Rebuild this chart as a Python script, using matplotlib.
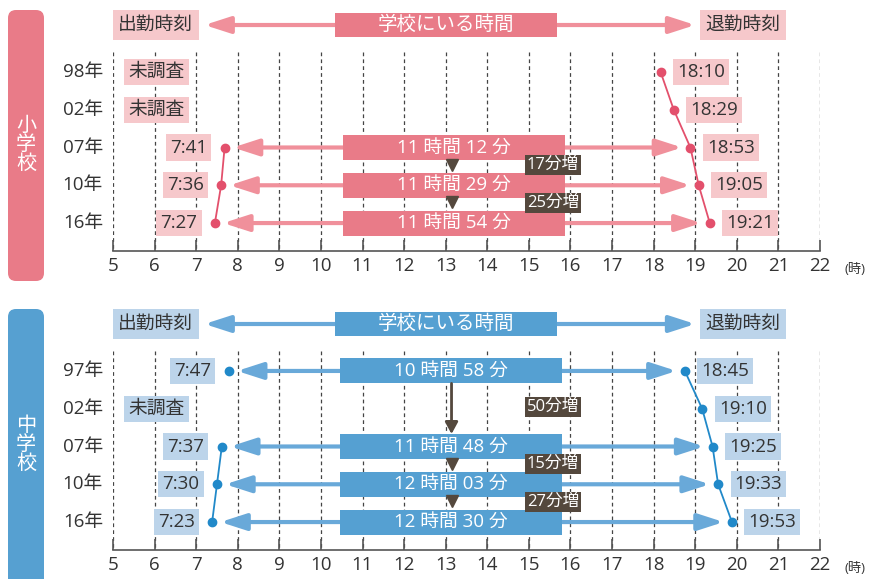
import matplotlib.pyplot as plt
from matplotlib.patches import Rectangle, FancyBboxPatch, FancyArrowPatch

plt.rcParams['font.family'] = ['Open Sans', 'Noto Sans CJK JP', 'DejaVu Sans']

# ----- データ -----
hours = list(range(5, 23))

# 小学校
es_years = ['98年', '02年', '07年', '10年', '16年']
es_arrive = [None, None, '7:41', '7:36', '7:27']
es_leave = ['18:10', '18:29', '18:53', '19:05', '19:21']
es_stay = [None, None, '11 時間 12 分', '11 時間 29 分', '11 時間 54 分']
es_diff_rows = [(2, 3), (3, 4)]
es_diff = ['17分増', '25分増']

# 中学校
jh_years = ['97年', '02年', '07年', '10年', '16年']
jh_arrive = ['7:47', None, '7:37', '7:30', '7:23']
jh_leave = ['18:45', '19:10', '19:25', '19:33', '19:53']
jh_stay = ['10 時間 58 分', None, '11 時間 48 分', '12 時間 03 分', '12 時間 30 分']
jh_diff_rows = [(0, 2), (2, 3), (3, 4)]
jh_diff = ['50分増', '15分増', '27分増']

pink = dict(dot='#e3506c', arrow='#f0909b', box='#e97b88', light='#f6c8cb')
blue = dict(dot='#2189c9', arrow='#69a9d9', box='#55a0d2', light='#bcd4ea')
brown = '#54483d'
text_c = '#333333'
FS = 13.5

HEAD = -1.243      # 見出し行の位置
GRID_TOP = -0.53
YLIM = (4.74, -1.905)


def to_h(s):
    if s is None:
        return float('nan')
    h, m = s.split(':')
    return int(h) + int(m) / 60


def arrow(ax, x0, x1, y, color, style='<|-|>'):
    a = FancyArrowPatch((x0, y), (x1, y),
                        arrowstyle=style + ',head_length=1.55,head_width=0.5',
                        mutation_scale=10, color=color, lw=3,
                        shrinkA=0, shrinkB=0, zorder=2)
    ax.add_patch(a)


def label_box(ax, x, y, s, fc, ha):
    ax.text(x, y, s, fontsize=FS, color=text_c, ha=ha, va='center', zorder=6,
            bbox=dict(boxstyle='square,pad=0.22', fc=fc, ec='none'))


def draw_panel(ax, years, arrive, leave, stay, diff_rows, diff, c, stay_x):
    rows = list(range(len(years)))
    xa = [to_h(s) for s in arrive]
    xl = [to_h(s) for s in leave]

    ax.set_xlim(5, 22)
    ax.set_ylim(*YLIM)
    for side in ['top', 'left', 'right']:
        ax.spines[side].set_visible(False)
    ax.spines['bottom'].set_color('#555555')
    ax.spines['bottom'].set_linewidth(1.2)
    ax.set_yticks([])
    ax.set_xticks(hours)
    ax.tick_params(axis='x', direction='in', length=8, width=1.2,
                   color='#555555', labelcolor=text_c, labelsize=FS, pad=4)
    ax.vlines(hours, GRID_TOP, YLIM[0], colors='#444444', linestyles=(0, (3, 2.5)),
              lw=0.9, zorder=0)
    ax.text(22.6, 5.24, '(時)', fontsize=9.5, color=text_c, ha='left',
            va='center', clip_on=False)

    # 見出し
    arrow(ax, 7.2, 19.0, HEAD, c['arrow'])
    for x, s in [(6.03, '出勤時刻'), (20.15, '退勤時刻')]:
        ax.text(x, HEAD, s, fontsize=FS, color=text_c, ha='center', va='center',
                bbox=dict(boxstyle='square,pad=0.3', fc=c['light'], ec='none'), zorder=3)
    ax.add_patch(Rectangle((13.01 - 2.67, HEAD - 0.33), 5.34, 0.66, fc=c['box'],
                           ec='none', zorder=3))
    ax.text(13.01, HEAD, '学校にいる時間', fontsize=14, color='white', ha='center',
            va='center', zorder=4)

    # 行ラベル
    for r, y in zip(rows, years):
        ax.text(4.76, r, y, fontsize=FS, color=text_c, ha='right', va='center',
                clip_on=False)

    # 在校時間の矢印と箱
    for r in rows:
        if arrive[r] is not None:
            arrow(ax, xa[r] + 0.2, xl[r] - 0.2, r, c['arrow'])
        if stay[r] is not None:
            ax.add_patch(Rectangle((stay_x - 2.67, r - 0.33), 5.34, 0.66,
                                   fc=c['box'], ec='none', zorder=3))
            ax.text(stay_x, r, stay[r], fontsize=13.5, color='white', ha='center',
                    va='center', zorder=4)

    # 折れ線と点
    ax.plot(xa, rows, '-o', color=c['dot'], ms=6, lw=1.3, zorder=5)
    ax.plot(xl, rows, '-o', color=c['dot'], ms=6, lw=1.3, zorder=5)

    # 時刻ラベル
    for r in rows:
        if arrive[r] is None:
            label_box(ax, 6.05, r, '未調査', c['light'], 'center')
        else:
            label_box(ax, xa[r] - 0.42, r, arrive[r], c['light'], 'right')
        label_box(ax, xl[r] + 0.4, r, leave[r], c['light'], 'left')

    # 増加分
    for (r0, r1), lab in zip(diff_rows, diff):
        ym = (r0 + r1) / 2
        if r1 - r0 == 1:
            ax.plot(13.14, ym - 0.05, 'v', color=brown, ms=9, zorder=4)
        else:
            a = FancyArrowPatch((13.14, r0 + 0.33), (13.14, r1 - 0.33),
                                arrowstyle='-|>,head_length=0.7,head_width=0.38',
                                mutation_scale=10, color=brown, lw=2,
                                shrinkA=0, shrinkB=0, zorder=4)
            ax.add_patch(a)
        ax.text(15.58, ym - 0.04, lab, fontsize=12, color='white', ha='center',
                va='center', zorder=6,
                bbox=dict(boxstyle='square,pad=0.12', fc=brown, ec='none'))


fig = plt.figure(figsize=(8.69, 5.79), dpi=100)

# 左側の縦ラベル（ピクセル座標の背景用axes）
bg = fig.add_axes([0, 0, 1, 1])
bg.set_xlim(0, 869)
bg.set_ylim(579, 0)
bg.axis('off')
bg.add_patch(FancyBboxPatch((8, 10), 36, 271, boxstyle='round,pad=0,rounding_size=8',
                            fc='#e97b88', ec='none'))
bg.add_patch(FancyBboxPatch((8, 309), 36, 290, boxstyle='round,pad=0,rounding_size=8',
                            fc='#56a0d1', ec='none'))
bg.text(26, 145, '小\n学\n校', fontsize=14.5, color='white', ha='center', va='center',
        linespacing=0.95)
bg.text(26, 445, '中\n学\n校', fontsize=14.5, color='white', ha='center', va='center',
        linespacing=0.95)

ax_top = fig.add_axes([113 / 869, 1 - 251 / 579, 707 / 869, 251 / 579])
ax_bot = fig.add_axes([113 / 869, 1 - 550 / 579, 707 / 869, 251 / 579])

draw_panel(ax_top, es_years, es_arrive, es_leave, es_stay, es_diff_rows, es_diff, pink, 13.2)
draw_panel(ax_bot, jh_years, jh_arrive, jh_leave, jh_stay, jh_diff_rows, jh_diff, blue, 13.12)

plt.savefig('out.png', dpi=100)
